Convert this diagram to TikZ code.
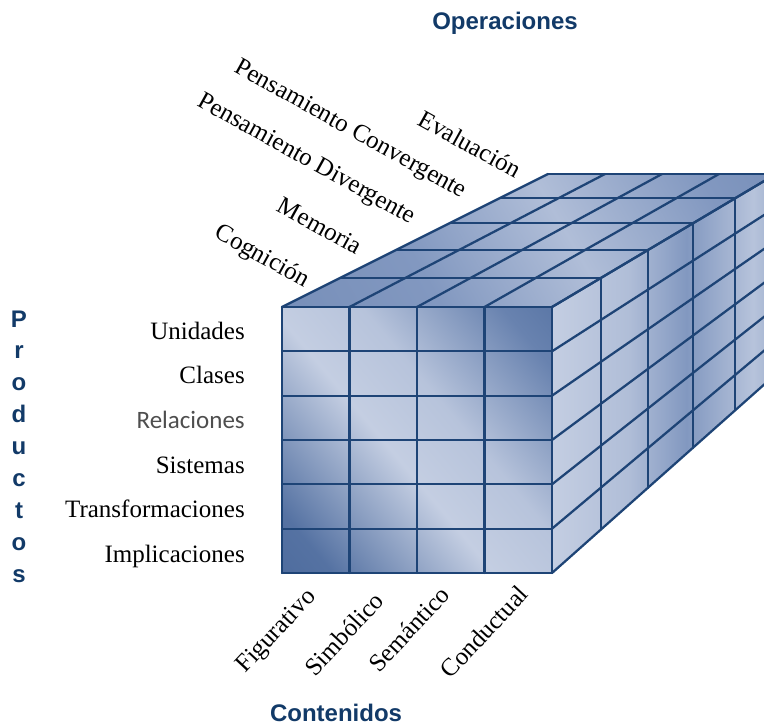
\documentclass[tikz,border=0pt]{standalone}
\usepackage{fontspec}
\setmainfont{Liberation Serif}
\setsansfont{Liberation Sans}
\newfontfamily\calfont{Carlito}
\usetikzlibrary{calc}

\definecolor{headblue}{RGB}{18,58,104}
\definecolor{gridblue}{RGB}{30,68,118}
\definecolor{cubedark}{RGB}{66,98,150}
\definecolor{cubemid}{RGB}{130,152,192}
\definecolor{cubelight}{RGB}{196,206,226}
\definecolor{relgray}{RGB}{78,78,78}

\pgfdeclarehorizontalshading{frontface}{100bp}{color(0bp)=(cubedark); color(22bp)=(cubedark!70!cubemid); color(45bp)=(cubelight); color(58bp)=(cubelight!80!cubemid); color(78bp)=(cubemid!60!cubedark); color(100bp)=(cubedark)}
\pgfdeclarehorizontalshading{sideface}{100bp}{color(0bp)=(cubedark); color(8bp)=(cubedark!60!cubemid); color(25bp)=(cubelight); color(42bp)=(cubelight!70!cubemid); color(55bp)=(cubemid); color(70bp)=(cubelight!80!cubemid); color(88bp)=(cubemid!50!cubedark); color(100bp)=(cubedark)}
\pgfdeclarehorizontalshading{topface}{100bp}{color(0bp)=(cubemid!70!cubedark); color(35bp)=(cubemid); color(55bp)=(cubelight!70!cubemid); color(75bp)=(cubemid); color(100bp)=(cubemid!60!cubedark)}

\tikzset{
  gridline/.style={draw=gridblue, line width=1.7pt, line cap=round, line join=round},
  txtlabel/.style={inner sep=0pt, font=\fontsize{18.75}{20}\selectfont},
  heading/.style={inner sep=0pt, text=headblue, font=\sffamily\bfseries\fontsize{18}{20}\selectfont},
}

\begin{document}
\begin{tikzpicture}[x=0.75pt, y=-0.75pt]
  \useasboundingbox (0,0) rectangle (764,728);
  \begin{scope}
    \clip (0,0) rectangle (764,728);
    % layers of the cube, front (0) to back (5)
    \foreach \k/\xl/\yt/\xr/\yb in {0/282/307/552/573, 1/340/278/601/529, 2/396/250/648/488, 3/450/223/693/448, 4/500/198/735/410, 5/548/174/776/374}{
      \coordinate (tl-\k) at (\xl,\yt);
      \coordinate (tr-\k) at (\xr,\yt);
      \coordinate (bl-\k) at (\xl,\yb);
      \coordinate (br-\k) at (\xr,\yb);
    }
    \shade[shading=topface, shading angle=30] (tl-0) -- (tl-5) -- (tr-5) -- (tr-0) -- cycle;
    \shade[shading=sideface] (tr-0) -- (tr-5) -- (br-5) -- (br-0) -- cycle;
    \shade[shading=frontface, shading angle=40] (tl-0) rectangle (br-0);
    % front face
    \foreach \i in {0,...,4}
      \draw[gridline] ($(tl-0)!\i/4!(tr-0)$) -- ($(bl-0)!\i/4!(br-0)$);
    \foreach \j in {0,...,6}
      \draw[gridline] ($(tl-0)!\j/6!(bl-0)$) -- ($(tr-0)!\j/6!(br-0)$);
    % top face
    \foreach \k in {1,...,5}
      \draw[gridline] (tl-\k) -- (tr-\k);
    \foreach \i in {0,...,4}
      \draw[gridline] ($(tl-0)!\i/4!(tr-0)$) -- ($(tl-5)!\i/4!(tr-5)$);
    % right face
    \foreach \k in {1,...,5}
      \draw[gridline] (tr-\k) -- (br-\k);
    \foreach \j in {0,...,6}
      \draw[gridline] ($(tr-0)!\j/6!(br-0)$) -- ($(tr-5)!\j/6!(br-5)$);
  \end{scope}

  % Productos
  \foreach \c [count=\n from 0] in {P,r,o,d,u,c,t,o,s}
    \node[heading, anchor=base] (prod-\n) at (19,{327+31.9*\n}) {\c};
  \node[txtlabel, anchor=base east] (unidades) at (245,339) {Unidades};
  \node[txtlabel, anchor=base east] (clases) at (245,383.6) {Clases};
  \node[txtlabel, anchor=base east, text=relgray, font=\calfont\fontsize{18.75}{20}\selectfont] (relaciones) at (245,428) {Relaciones};
  \node[txtlabel, anchor=base east] (sistemas) at (245,473) {Sistemas};
  \node[txtlabel, anchor=base east] (transformaciones) at (245,517) {Transformaciones};
  \node[txtlabel, anchor=base east] (implicaciones) at (245,562) {Implicaciones};

  % Operaciones
  \node[heading] (operaciones) at (505,23) {Operaciones};
  \node[txtlabel, rotate=-29] (cognicion) at (262,257) {Cognición};
  \node[txtlabel, rotate=-29] (memoria) at (320,226) {Memoria};
  \node[txtlabel, rotate=-29] (divergente) at (306,160) {Pensamiento Divergente};
  \node[txtlabel, rotate=-29] (convergente) at (350,130) {Pensamiento Convergente};
  \node[txtlabel, rotate=-29] (evaluacion) at (470,144) {Evaluación};

  % Contenidos
  \node[heading] (contenidos) at (336,713) {Contenidos};
  \node[txtlabel, rotate=47] (figurativo) at (277,632) {Figurativo};
  \node[txtlabel, rotate=47] (simbolico) at (344,634) {Simbólico};
  \node[txtlabel, rotate=47] (semantico) at (409,629) {Semántico};
  \node[txtlabel, rotate=47] (conductual) at (484,632) {Conductual};
\end{tikzpicture}
\end{document}
